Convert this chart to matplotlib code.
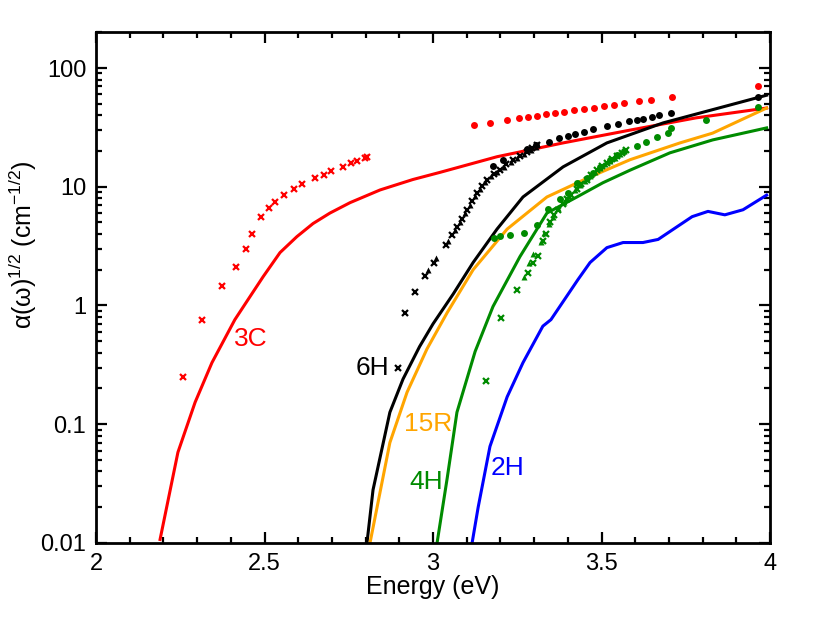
import matplotlib
matplotlib.use("Agg")
import matplotlib.pyplot as plt
from matplotlib.ticker import MultipleLocator, LogLocator, NullFormatter, FixedFormatter, FixedLocator

plt.rcParams['font.family'] = ['Liberation Sans', 'DejaVu Sans']
plt.rcParams['mathtext.fontset'] = 'custom'
plt.rcParams['mathtext.rm'] = 'Liberation Sans'
plt.rcParams['mathtext.it'] = 'Liberation Sans'

# calculated curves (energy in eV, alpha^1/2)
e_3c = [2.19, 2.243, 2.294, 2.344, 2.412, 2.451, 2.496, 2.546, 2.596, 2.644, 2.694, 2.754, 2.843, 2.94, 3.02, 3.19, 3.386, 3.585, 3.78, 3.99]
a_3c = [0.0107, 0.058, 0.153, 0.33, 0.76, 1.12, 1.75, 2.79, 3.8, 4.9, 6.0, 7.35, 9.4, 11.5, 13.2, 17.9, 23.4, 30, 38, 46]

e_6h = [2.804, 2.822, 2.872, 2.911, 2.96, 3.0, 3.06, 3.119, 3.19, 3.267, 3.386, 3.516, 3.683, 3.99]
a_6h = [0.01, 0.028, 0.126, 0.24, 0.45, 0.7, 1.25, 2.3, 4.4, 8.2, 14.7, 23.4, 34.5, 59]

e_15r = [2.813, 2.872, 2.923, 2.982, 3.042, 3.119, 3.22, 3.338, 3.466, 3.585, 3.733, 3.83, 3.99]
a_15r = [0.01, 0.07, 0.186, 0.43, 0.87, 2.0, 4.4, 8.2, 12.1, 16.9, 23.4, 28.3, 46]

e_4h = [3.012, 3.042, 3.071, 3.125, 3.178, 3.258, 3.338, 3.427, 3.504, 3.585, 3.703, 3.83, 3.99]
a_4h = [0.01, 0.035, 0.126, 0.41, 0.98, 2.58, 6.0, 8.2, 10.8, 13.8, 19.3, 24.8, 31.3]

e_2h = [3.116, 3.134, 3.169, 3.22, 3.267, 3.326, 3.35, 3.43, 3.466, 3.516, 3.564, 3.623, 3.668, 3.724, 3.769, 3.816, 3.866, 3.92, 3.99]
a_2h = [0.01, 0.02, 0.065, 0.17, 0.33, 0.67, 0.76, 1.65, 2.3, 3.07, 3.39, 3.39, 3.6, 4.6, 5.6, 6.2, 5.8, 6.4, 8.5]

# measured data
e_3c_x = [2.258, 2.315, 2.374, 2.415, 2.445, 2.463, 2.49, 2.513, 2.531, 2.558, 2.588, 2.611, 2.65, 2.677, 2.697, 2.733, 2.757, 2.774, 2.798, 2.804]
a_3c_x = [0.248, 0.75, 1.47, 2.09, 3.0, 4.03, 5.6, 6.67, 7.48, 8.57, 9.6, 10.6, 11.9, 12.6, 13.6, 14.7, 15.9, 16.5, 17.5, 17.8]

e_3c_o = [3.122, 3.169, 3.22, 3.255, 3.282, 3.309, 3.335, 3.362, 3.389, 3.419, 3.448, 3.478, 3.507, 3.537, 3.568, 3.612, 3.648, 3.71, 3.964]
a_3c_o = [33, 34.4, 36.5, 38, 38.7, 39.5, 40.7, 41.6, 42.9, 44.3, 45.2, 46, 47.6, 49, 50.7, 52.3, 54.2, 57.5, 70.5]

e_6h_x = [2.896, 2.917, 2.947, 2.976, 3.003, 3.039, 3.056, 3.071, 3.086, 3.101, 3.116, 3.131, 3.145, 3.16, 3.18, 3.199, 3.218, 3.237, 3.258, 3.279, 3.295, 3.309]
a_6h_x = [0.296, 0.87, 1.31, 1.78, 2.3, 3.25, 3.95, 4.6, 5.4, 6.4, 7.6, 8.9, 10.2, 11.5, 12.7, 13.9, 15.4, 16.9, 18.3, 19.7, 21.0, 22.5]
e_6h_t = [2.985, 3.01, 3.045, 3.065, 3.08, 3.095, 3.11, 3.125, 3.14, 3.155, 3.172, 3.19, 3.21, 3.23, 3.25, 3.27, 3.29, 3.305]
a_6h_t = [2.0, 2.5, 3.5, 4.3, 5.0, 6.0, 7.0, 8.3, 9.6, 11.0, 12.3, 13.4, 14.7, 16.2, 17.6, 19.0, 20.5, 21.8]
e_6h_o = [3.178, 3.208, 3.279, 3.306, 3.344, 3.374, 3.4, 3.421, 3.448, 3.475, 3.516, 3.549, 3.582, 3.605, 3.623, 3.65, 3.671, 3.706, 3.964]
a_6h_o = [15, 16.9, 20.9, 22.5, 23.9, 25.8, 26.8, 27.9, 29, 30.7, 32.6, 33.9, 35.9, 36.6, 37.2, 38.7, 40.3, 41.9, 57]

e_4h_x = [3.157, 3.202, 3.249, 3.282, 3.297, 3.312, 3.326, 3.336, 3.347, 3.36, 3.37, 3.385, 3.398, 3.41, 3.427, 3.44, 3.457, 3.47, 3.487, 3.5, 3.516, 3.53, 3.546, 3.56, 3.572]
a_4h_x = [0.23, 0.79, 1.36, 1.86, 2.3, 2.6, 3.5, 4.0, 5.0, 5.8, 6.4, 7.2, 7.9, 8.6, 9.6, 10.6, 11.5, 12.6, 13.9, 14.9, 16.0, 17.0, 18.0, 19.3, 20.3]
e_4h_t = [3.27, 3.285, 3.297, 3.32, 3.33, 3.345, 3.357, 3.372, 3.39, 3.405, 3.42, 3.435, 3.45, 3.465, 3.48, 3.495, 3.51, 3.525, 3.54, 3.555, 3.568]
a_4h_t = [1.75, 2.3, 2.73, 3.4, 4.1, 4.9, 5.6, 6.6, 7.5, 8.4, 9.3, 10.3, 11.2, 12.3, 13.4, 14.5, 15.5, 16.6, 17.6, 18.8, 19.9]
e_4h_o = [3.181, 3.199, 3.228, 3.27, 3.309, 3.341, 3.377, 3.4, 3.427, 3.457, 3.475, 3.496, 3.525, 3.546, 3.568, 3.605, 3.632, 3.665, 3.697, 3.706, 3.81, 3.964]
a_4h_o = [3.73, 3.87, 3.95, 4.1, 4.78, 6.5, 7.9, 8.9, 10.8, 11.9, 13.1, 14.7, 16.9, 18.6, 20.1, 22.1, 23.9, 26.3, 28.4, 31.3, 36.6, 47]

polytypes = ['3C', '6H', '15R', '4H', '2H']
colores = ['#ff0000', '#000000', '#ffa500', '#008b00', '#0000ff']
etiqueta_e = [2.46, 2.82, 2.985, 2.98, 3.22]
etiqueta_a = [0.52, 0.30, 0.10, 0.0326, 0.0427]

fig = plt.figure(figsize=(8.3, 6.4), dpi=100)
ax = fig.add_axes([0.1157, 0.1516, 0.812, 0.798])

curvas = [(e_3c, a_3c), (e_6h, a_6h), (e_15r, a_15r), (e_4h, a_4h), (e_2h, a_2h)]
for (e, a), c in zip(curvas, colores):
    ax.plot(e, a, color=c, lw=2.2, solid_joinstyle='round')

ms_x = 4.5
ax.plot(e_3c_x, a_3c_x, 'x', color='#ff0000', ms=ms_x, mew=1.6)
ax.plot(e_3c_o, a_3c_o, 'o', color='#ff0000', ms=5, mec='none')
ax.plot(e_6h_x, a_6h_x, 'x', color='k', ms=ms_x, mew=1.6)
ax.plot(e_6h_t, a_6h_t, '^', color='k', ms=4.5, mec='none')
ax.plot(e_6h_o, a_6h_o, 'o', color='k', ms=5, mec='none')
ax.plot(e_4h_x, a_4h_x, 'x', color='#008b00', ms=ms_x, mew=1.6)
ax.plot(e_4h_t, a_4h_t, '^', color='#008b00', ms=4.5, mec='none')
ax.plot(e_4h_o, a_4h_o, 'o', color='#008b00', ms=5, mec='none')

for txt, c, x, y in zip(polytypes, colores, etiqueta_e, etiqueta_a):
    ax.text(x, y, txt, color=c, fontsize=19, ha='center', va='center')

ax.set_yscale('log')
ax.set_xlim(2, 4)
ax.set_ylim(0.01, 200)

ax.xaxis.set_major_locator(FixedLocator([2, 2.5, 3, 3.5, 4]))
ax.xaxis.set_major_formatter(FixedFormatter(['2', '2.5', '3', '3.5', '4']))
ax.xaxis.set_minor_locator(MultipleLocator(0.1))
ax.yaxis.set_major_locator(FixedLocator([0.01, 0.1, 1, 10, 100]))
ax.yaxis.set_major_formatter(FixedFormatter(['0.01', '0.1', '1', '10', '100']))
ax.yaxis.set_minor_locator(LogLocator(base=10, subs=range(2, 10), numticks=20))
ax.yaxis.set_minor_formatter(NullFormatter())

ax.tick_params(which='both', direction='in', top=True, right=True, width=1.6, labelsize=17)
ax.tick_params(which='major', length=8)
ax.tick_params(which='minor', length=4.5)
ax.tick_params(axis='x', pad=7)
ax.tick_params(axis='y', pad=7)
for s in ax.spines.values():
    s.set_linewidth(2)

ax.set_xlabel('Energy (eV)', fontsize=18, labelpad=0)
ax.set_ylabel('α(ω)$^{1/2}$ (cm$^{-1/2}$)', fontsize=18)
ax.yaxis.set_label_coords(-0.085, 0.585)

fig.savefig('out.png', dpi=100)
